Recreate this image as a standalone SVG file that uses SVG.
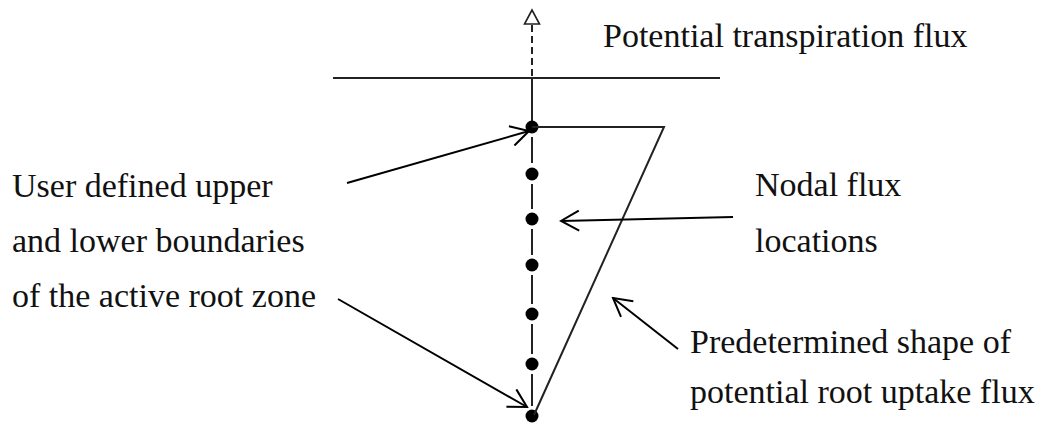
<svg xmlns="http://www.w3.org/2000/svg" width="1045" height="423" viewBox="0 0 1045 423">
<style>
.t{font-family:"Liberation Serif","Times New Roman",serif;font-size:34px;fill:#111}
.ln{stroke:#222;stroke-width:2;fill:none}
.ar{stroke:#000;stroke-width:2;fill:none}
.dot{fill:#000}
</style>
<defs>
<marker id="open" viewBox="0 0 22 22" refX="20" refY="11" markerWidth="22" markerHeight="22" markerUnits="userSpaceOnUse" orient="auto">
<path d="M2,1 L20,11 L2,21" fill="none" stroke="#000" stroke-width="2"/>
</marker>
</defs>
<rect width="1045" height="423" fill="#fff"/>
<g id="ground">
<line class="ln" x1="333" y1="78" x2="720" y2="78"/>
</g>
<g id="transpiration">
<line class="ln" x1="532" y1="25" x2="532" y2="78" stroke-dasharray="7,4"/>
<polygon points="532,10 524.5,24 539.5,24" fill="#fff" stroke="#222" stroke-width="1.6"/>
<text class="t" x="603" y="47">Potential transpiration flux</text>
</g>
<g id="root-column">
<line class="ln" x1="532" y1="78" x2="532" y2="122"/>
<line class="ln" x1="532" y1="137" x2="532" y2="163"/>
<line class="ln" x1="532" y1="184" x2="532" y2="209"/>
<line class="ln" x1="532" y1="229" x2="532" y2="255"/>
<line class="ln" x1="532" y1="275" x2="532" y2="304"/>
<line class="ln" x1="532" y1="324" x2="532" y2="354"/>
<line class="ln" x1="532" y1="374" x2="532" y2="406"/>
<circle class="dot" cx="532" cy="127" r="6.5"/>
<circle class="dot" cx="532" cy="174" r="6.5"/>
<circle class="dot" cx="532" cy="219" r="6.5"/>
<circle class="dot" cx="532" cy="265" r="6.5"/>
<circle class="dot" cx="532" cy="314" r="6.5"/>
<circle class="dot" cx="532" cy="364" r="6.5"/>
<circle class="dot" cx="532" cy="416" r="6.5"/>
</g>
<g id="uptake-shape">
<polyline class="ln" points="532,127 664,127 534,415"/>
</g>
<g id="label-boundaries">
<text class="t" x="12" y="197">User defined upper</text>
<text class="t" x="12" y="252">and lower boundaries</text>
<text class="t" x="12" y="307">of the active root zone</text>
</g>
<g id="label-nodal">
<text class="t" x="755" y="196">Nodal flux</text>
<text class="t" x="755" y="252">locations</text>
</g>
<g id="label-shape">
<text class="t" x="690" y="353">Predetermined shape of</text>
<text class="t" x="690" y="403">potential root uptake flux</text>
</g>
<g id="connectors">
<line class="ar" x1="347" y1="183" x2="529" y2="131" marker-end="url(#open)"/>
<line class="ar" x1="338" y1="299" x2="527" y2="407" marker-end="url(#open)"/>
<line class="ar" x1="733" y1="217" x2="561" y2="221" marker-end="url(#open)"/>
<line class="ar" x1="678" y1="349" x2="613" y2="298" marker-end="url(#open)"/>
</g>
</svg>
